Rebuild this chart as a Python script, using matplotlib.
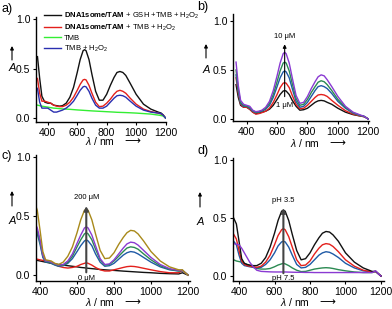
import matplotlib
matplotlib.use("Agg")
import matplotlib.pyplot as plt

plt.rcParams['font.family'] = ['Liberation Sans', 'DejaVu Sans']
plt.rcParams['mathtext.fontset'] = 'custom'
plt.rcParams['mathtext.rm'] = 'Liberation Sans'
plt.rcParams['mathtext.it'] = 'Liberation Sans:italic'
plt.rcParams['mathtext.bf'] = 'Liberation Sans:bold'

# Длины волн (нм) для панелей a), b)
wl_ab = [330, 345, 360, 380, 400, 420, 440, 460, 480, 500, 525, 550, 575, 600, 620,
         640, 650, 660, 680, 700, 725, 750, 775, 800, 825, 850, 870, 890, 910, 930,
         960, 1000, 1050, 1100, 1150, 1170, 1185, 1200]
# Длины волн (нм) для панелей c), d)
wl_cd = [370, 385, 400, 415, 430, 445, 460, 480, 500, 525, 550, 575, 600, 620, 640,
         650, 660, 680, 700, 725, 750, 775, 800, 825, 850, 870, 890, 910, 930, 960,
         1000, 1050, 1100, 1150, 1170, 1185, 1200]

# Панель a)
a_labels = [r'$\mathbf{DNA1some/TAM}$ + GSH +TMB + H$_2$O$_2$',
            r'$\mathbf{DNA1some/TAM}$ + TMB + H$_2$O$_2$',
            'TMB',
            r'TMB + H$_2$O$_2$']
a_black = [0.62, 0.40, 0.22, 0.16, 0.15, 0.15, 0.13, 0.125, 0.12, 0.125, 0.15, 0.21, 0.31, 0.46, 0.59,
           0.68, 0.69, 0.68, 0.59, 0.44, 0.27, 0.18, 0.18, 0.24, 0.33, 0.41, 0.46, 0.47, 0.46, 0.43,
           0.35, 0.24, 0.14, 0.09, 0.06, 0.05, 0.03, 0.0]
a_red = [0.40, 0.25, 0.17, 0.17, 0.16, 0.15, 0.13, 0.12, 0.115, 0.115, 0.13, 0.16, 0.21, 0.28, 0.34,
         0.385, 0.39, 0.385, 0.33, 0.25, 0.16, 0.115, 0.12, 0.15, 0.19, 0.24, 0.27, 0.28, 0.27, 0.25,
         0.20, 0.14, 0.09, 0.065, 0.05, 0.04, 0.025, 0.0]
a_green = [0.13, 0.125, 0.12, 0.115, 0.11, 0.105, 0.10, 0.098, 0.095, 0.092, 0.09, 0.088, 0.085, 0.082, 0.08,
           0.078, 0.077, 0.076, 0.074, 0.072, 0.07, 0.068, 0.066, 0.064, 0.062, 0.06, 0.058, 0.057, 0.056, 0.055,
           0.053, 0.05, 0.045, 0.04, 0.03, 0.025, 0.02, 0.0]
a_blue = [0.30, 0.16, 0.10, 0.10, 0.10, 0.08, 0.06, 0.06, 0.07, 0.08, 0.10, 0.13, 0.17, 0.23, 0.28,
          0.315, 0.32, 0.315, 0.27, 0.20, 0.13, 0.10, 0.10, 0.12, 0.16, 0.20, 0.225, 0.23, 0.225, 0.21,
          0.17, 0.12, 0.08, 0.06, 0.05, 0.045, 0.025, 0.0]

# Панель b) (1 ... 10 мкМ)
b_black = [0.35, 0.22, 0.14, 0.12, 0.12, 0.10, 0.07, 0.055, 0.06, 0.07, 0.08, 0.10, 0.14, 0.20, 0.25,
           0.285, 0.29, 0.285, 0.25, 0.19, 0.13, 0.09, 0.095, 0.11, 0.14, 0.17, 0.185, 0.19, 0.185, 0.17,
           0.15, 0.11, 0.07, 0.045, 0.03, 0.025, 0.015, 0.0]
b_red = [0.42, 0.26, 0.15, 0.12, 0.12, 0.10, 0.07, 0.05, 0.055, 0.065, 0.08, 0.11, 0.17, 0.25, 0.32,
         0.365, 0.37, 0.365, 0.32, 0.24, 0.15, 0.105, 0.11, 0.14, 0.18, 0.22, 0.245, 0.25, 0.245, 0.23,
         0.19, 0.14, 0.085, 0.05, 0.03, 0.025, 0.015, 0.0]
b_blue = [0.45, 0.28, 0.16, 0.13, 0.13, 0.11, 0.08, 0.065, 0.07, 0.08, 0.10, 0.14, 0.22, 0.33, 0.42,
          0.48, 0.49, 0.48, 0.42, 0.31, 0.18, 0.12, 0.13, 0.17, 0.23, 0.29, 0.33, 0.34, 0.33, 0.31,
          0.26, 0.18, 0.11, 0.06, 0.035, 0.03, 0.015, 0.0]
b_green = [0.50, 0.30, 0.17, 0.14, 0.13, 0.12, 0.085, 0.07, 0.075, 0.085, 0.11, 0.16, 0.25, 0.38, 0.49,
           0.57, 0.58, 0.57, 0.49, 0.36, 0.21, 0.14, 0.15, 0.20, 0.27, 0.33, 0.375, 0.39, 0.38, 0.35,
           0.29, 0.20, 0.12, 0.065, 0.035, 0.03, 0.015, 0.0]
b_purple = [0.58, 0.34, 0.19, 0.15, 0.14, 0.13, 0.09, 0.075, 0.08, 0.09, 0.12, 0.18, 0.29, 0.44, 0.57,
            0.665, 0.68, 0.665, 0.57, 0.42, 0.24, 0.16, 0.17, 0.23, 0.31, 0.38, 0.43, 0.45, 0.44, 0.40,
            0.33, 0.23, 0.13, 0.07, 0.04, 0.03, 0.015, 0.0]

# Панель c) (0 ... 200 мкМ)
c_black = [0.125, 0.125, 0.12, 0.115, 0.11, 0.105, 0.10, 0.095, 0.09, 0.085, 0.08, 0.075, 0.07, 0.065, 0.062,
           0.06, 0.058, 0.055, 0.052, 0.048, 0.045, 0.042, 0.04, 0.037, 0.034, 0.032, 0.03, 0.028, 0.026, 0.023,
           0.02, 0.015, 0.012, 0.01, 0.02, 0.01, 0.0]
c_red = [0.14, 0.135, 0.13, 0.125, 0.12, 0.115, 0.105, 0.09, 0.075, 0.065, 0.06, 0.065, 0.075, 0.09, 0.10,
         0.105, 0.10, 0.085, 0.065, 0.045, 0.035, 0.035, 0.045, 0.055, 0.065, 0.072, 0.075, 0.073, 0.068, 0.058,
         0.045, 0.03, 0.02, 0.02, 0.04, 0.02, 0.0]
c_blue = [0.40, 0.35, 0.26, 0.15, 0.11, 0.11, 0.10, 0.085, 0.075, 0.08, 0.10, 0.14, 0.20, 0.25, 0.29,
          0.30, 0.29, 0.25, 0.18, 0.11, 0.075, 0.08, 0.10, 0.135, 0.17, 0.19, 0.20, 0.195, 0.18, 0.15,
          0.11, 0.07, 0.045, 0.035, 0.04, 0.02, 0.0]
c_green = [0.42, 0.37, 0.28, 0.16, 0.115, 0.115, 0.105, 0.09, 0.08, 0.085, 0.11, 0.16, 0.24, 0.30, 0.35,
           0.36, 0.35, 0.30, 0.22, 0.13, 0.085, 0.09, 0.12, 0.16, 0.20, 0.23, 0.24, 0.235, 0.22, 0.18,
           0.13, 0.08, 0.05, 0.035, 0.04, 0.02, 0.0]
c_purple = [0.45, 0.40, 0.30, 0.17, 0.12, 0.12, 0.11, 0.095, 0.085, 0.09, 0.12, 0.18, 0.27, 0.34, 0.40,
            0.41, 0.40, 0.34, 0.25, 0.14, 0.09, 0.095, 0.13, 0.18, 0.23, 0.265, 0.28, 0.275, 0.255, 0.21,
            0.15, 0.09, 0.055, 0.04, 0.04, 0.02, 0.0]
c_gold = [0.62, 0.55, 0.38, 0.20, 0.13, 0.125, 0.12, 0.10, 0.09, 0.11, 0.16, 0.24, 0.36, 0.47, 0.55,
          0.56, 0.55, 0.47, 0.35, 0.21, 0.14, 0.145, 0.19, 0.26, 0.32, 0.36, 0.38, 0.375, 0.35, 0.29,
          0.20, 0.12, 0.07, 0.045, 0.045, 0.02, 0.0]

# Панель d) (pH 3.5 ... 7.5)
d_black = [0.50, 0.45, 0.30, 0.15, 0.11, 0.10, 0.095, 0.09, 0.09, 0.11, 0.16, 0.25, 0.37, 0.48, 0.56,
           0.57, 0.56, 0.48, 0.36, 0.22, 0.14, 0.15, 0.20, 0.27, 0.33, 0.37, 0.385, 0.38, 0.355, 0.30,
           0.20, 0.12, 0.07, 0.04, 0.04, 0.02, 0.0]
d_red = [0.36, 0.32, 0.22, 0.13, 0.10, 0.09, 0.085, 0.08, 0.075, 0.085, 0.12, 0.18, 0.27, 0.35, 0.40,
         0.41, 0.40, 0.34, 0.25, 0.14, 0.09, 0.095, 0.13, 0.19, 0.24, 0.27, 0.28, 0.275, 0.255, 0.21,
         0.14, 0.085, 0.05, 0.035, 0.04, 0.02, 0.0]
d_blue = [0.30, 0.27, 0.18, 0.11, 0.09, 0.085, 0.08, 0.075, 0.07, 0.075, 0.10, 0.14, 0.20, 0.26, 0.295,
          0.30, 0.295, 0.25, 0.18, 0.10, 0.07, 0.075, 0.10, 0.14, 0.18, 0.20, 0.21, 0.205, 0.19, 0.16,
          0.11, 0.07, 0.045, 0.035, 0.04, 0.02, 0.0]
d_green = [0.14, 0.13, 0.125, 0.12, 0.11, 0.10, 0.09, 0.075, 0.065, 0.06, 0.06, 0.065, 0.08, 0.095, 0.105,
           0.11, 0.105, 0.09, 0.07, 0.05, 0.038, 0.04, 0.05, 0.06, 0.066, 0.07, 0.072, 0.07, 0.065, 0.055,
           0.045, 0.035, 0.03, 0.03, 0.04, 0.02, 0.0]
d_purple = [0.28, 0.275, 0.27, 0.24, 0.20, 0.16, 0.12, 0.08, 0.05, 0.04, 0.038, 0.036, 0.035, 0.035, 0.035,
            0.035, 0.035, 0.034, 0.033, 0.032, 0.032, 0.031, 0.031, 0.03, 0.03, 0.03, 0.03, 0.03, 0.03, 0.03,
            0.03, 0.03, 0.03, 0.03, 0.045, 0.02, 0.0]

x_ticks = [400, 600, 800, 1000, 1200]
y_ticks = [0.0, 0.5, 1.0]

BLACK = '#111111'
RED = '#e3201c'
BLUE = '#1f5aa6'
DBLUE = '#2a2fb0'
GREEN = '#2b8a52'
LGREEN = '#33ee33'
PURPLE = '#8a3ad2'
GOLD = '#a8891a'

W, H = 392, 309
fig = plt.figure(figsize=(W / 100, H / 100), dpi=100)


# Прямоугольник осей по пиксельным координатам
def PxRect(x0, x1, ytop, ybot):
    return [x0 / W, 1 - ybot / H, (x1 - x0) / W, (ybot - ytop) / H]


def SetupAxes(ax, xlim, ylim):
    ax.set_xlim(*xlim)
    ax.set_ylim(*ylim)
    ax.set_xticks(x_ticks)
    ax.set_yticks(y_ticks)
    ax.set_yticklabels(['%.1f' % v for v in y_ticks])
    for s in ['top', 'right']:
        ax.spines[s].set_visible(False)
    for s in ['left', 'bottom']:
        ax.spines[s].set_linewidth(1.0)
    ax.tick_params(direction='out', length=2.5, width=0.8, labelsize=7.5, pad=1.5)


def AxisTitles(xl, yl_x, yl_y, arr_y0, arr_y1):
    # подпись оси x: λ / nm и длинная стрелка
    fig.text(xl[0] / W, 1 - xl[1] / H, r'$\mathit{\lambda}$ / nm', fontsize=7.5, va='center', ha='left')
    fig.text((xl[0] + 39) / W, 1 - xl[1] / H, '⟶', fontsize=8, va='center', ha='left',
             family=['DejaVu Sans'])
    # подпись оси y: A со стрелкой вверх
    fig.text(yl_x / W, 1 - yl_y / H, 'A', fontsize=8, style='italic', va='center', ha='center')
    fig.add_artist(matplotlib.patches.FancyArrowPatch(
        (yl_x / W, 1 - arr_y0 / H), (yl_x / W, 1 - arr_y1 / H), transform=fig.transFigure,
        arrowstyle='-|>', mutation_scale=5, lw=0.8, color='k', shrinkA=0, shrinkB=0))


lw = 1.0

# a)
ax_a = fig.add_axes(PxRect(36, 166, 17, 122))
ax_a.plot(wl_ab, a_black, color=BLACK, lw=lw, label=a_labels[0])
ax_a.plot(wl_ab, a_red, color=RED, lw=lw, label=a_labels[1])
ax_a.plot(wl_ab, a_green, color=LGREEN, lw=lw, label=a_labels[2])
ax_a.plot(wl_ab, a_blue, color=DBLUE, lw=lw, label=a_labels[3])
SetupAxes(ax_a, (320, 1203), (-0.04, 1.02))
ax_a.legend(loc='upper left', bbox_to_anchor=(44 / W, 1 - 11 / H), bbox_transform=fig.transFigure,
            frameon=False, fontsize=5.5, handlelength=2.2, handletextpad=0.45, labelspacing=0.22,
            borderpad=0, borderaxespad=0)
AxisTitles((85, 141.5), 12, 68, 60, 46)
fig.text(2 / W, 1 - 9 / H, 'a)', fontsize=9, va='center')

# b)
ax_b = fig.add_axes(PxRect(233, 369, 14, 121))
ax_b.plot(wl_ab, b_black, color=BLACK, lw=lw)
ax_b.plot(wl_ab, b_red, color=RED, lw=lw)
ax_b.plot(wl_ab, b_blue, color=BLUE, lw=lw)
ax_b.plot(wl_ab, b_green, color=GREEN, lw=lw)
ax_b.plot(wl_ab, b_purple, color=PURPLE, lw=lw)
SetupAxes(ax_b, (310, 1205), (-0.02, 1.07))
ax_b.annotate('', xy=(650, 0.79), xytext=(650, 0.2),
              arrowprops=dict(arrowstyle='-|>', lw=0.8, color='k', mutation_scale=5))
ax_b.text(650, 0.84, '10 μM', fontsize=5.5, ha='center', va='center')
ax_b.text(650, 0.14, '1 μM', fontsize=5.5, ha='center', va='center')
AxisTitles((290, 143), 206, 70, 58, 44)
fig.text(197 / W, 1 - 7 / H, 'b)', fontsize=9, va='center')

# c)
ax_c = fig.add_axes(PxRect(36, 190, 155, 281))
ax_c.plot(wl_cd, c_black, color=BLACK, lw=lw)
ax_c.plot(wl_cd, c_red, color=RED, lw=lw)
ax_c.plot(wl_cd, c_blue, color=BLUE, lw=lw)
ax_c.plot(wl_cd, c_green, color=GREEN, lw=lw)
ax_c.plot(wl_cd, c_purple, color=PURPLE, lw=lw)
ax_c.plot(wl_cd, c_gold, color=GOLD, lw=lw)
SetupAxes(ax_c, (378, 1211), (-0.05, 1.02))
ax_c.annotate('', xy=(650, 0.61), xytext=(650, 0.0),
              arrowprops=dict(arrowstyle='-|>', lw=1.5, color='#444444', mutation_scale=6))
ax_c.text(650, 0.655, '200 μM', fontsize=5.5, ha='center', va='center')
ax_c.text(650, -0.025, '0 μM', fontsize=5.5, ha='center', va='center')
AxisTitles((85, 302), 12, 221, 206, 191)
fig.text(2 / W, 1 - 156 / H, 'c)', fontsize=9, va='center')

# d)
ax_d = fig.add_axes(PxRect(233, 384, 158, 281))
ax_d.plot(wl_cd, d_green, color=GREEN, lw=lw)
ax_d.plot(wl_cd, d_blue, color=BLUE, lw=lw)
ax_d.plot(wl_cd, d_red, color=RED, lw=lw)
ax_d.plot(wl_cd, d_black, color=BLACK, lw=lw)
ax_d.plot(wl_cd, d_purple, color=PURPLE, lw=lw)
SetupAxes(ax_d, (366, 1217), (-0.043, 1.02))
ax_d.annotate('', xy=(650, 0.61), xytext=(650, 0.0),
              arrowprops=dict(arrowstyle='-|>', lw=1.5, color='#444444', mutation_scale=6))
ax_d.text(650, 0.655, 'pH 3.5', fontsize=5.5, ha='center', va='center')
ax_d.text(650, -0.025, 'pH 7.5', fontsize=5.5, ha='center', va='center')
AxisTitles((280, 302), 200, 222, 207, 192)
fig.text(197 / W, 1 - 151 / H, 'd)', fontsize=9, va='center')

fig.savefig('out.png', dpi=100)
